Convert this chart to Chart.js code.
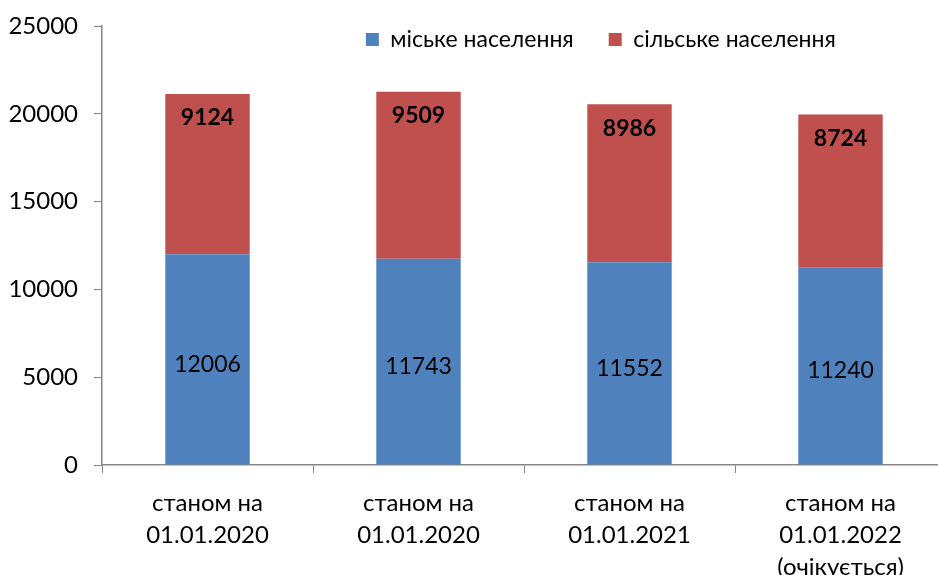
<!DOCTYPE html>
<html>
<head>
<meta charset="utf-8">
<script src="https://cdn.jsdelivr.net/npm/chart.js@4/dist/chart.umd.min.js"></script>
<style>
  html, body { margin: 0; padding: 0; background: #fff; overflow: hidden; }
  #wrap { width: 950px; height: 575px; position: relative; }
</style>
</head>
<body>
<div id="wrap"><canvas id="chart"></canvas></div>
<script>
const categories = [
  ['станом на', '01.01.2020'],
  ['станом на', '01.01.2020'],
  ['станом на', '01.01.2021'],
  ['станом на', '01.01.2022', '(очікується)']
];
const urban = [12006, 11743, 11552, 11240];
const rural = [9124, 9509, 8986, 8724];
const seriesNames = ['міське населення', 'сільське населення'];

const FONT = 'Lato, "Open Sans", sans-serif';
const axisColor = '#868686';

// value labels inside the bars
const barLabels = {
  id: 'barLabels',
  afterDatasetsDraw(chart) {
    const ctx = chart.ctx;
    ctx.save();
    ctx.fillStyle = '#000';
    ctx.textAlign = 'center';
    ctx.textBaseline = 'middle';
    chart.data.datasets.forEach((ds, di) => {
      const meta = chart.getDatasetMeta(di);
      meta.data.forEach((bar, i) => {
        const v = ds.data[i];
        if (di === 0) {
          ctx.font = '23px ' + FONT;
          ctx.fillText(String(v), bar.x, (bar.y + bar.base) / 2 + 5);
        } else {
          ctx.font = 'bold 23px ' + FONT;
          ctx.fillText(String(v), bar.x, bar.y + 24);
        }
      });
    });
    ctx.restore();
  }
};

// legend sits inside the plot area on one row, right of centre
const legendShift = {
  id: 'legendShift',
  beforeLayout(chart) {
    if (chart.legend) chart.legend.isHorizontal = () => true;
  },
  afterLayout(chart) {
    const lg = chart.legend;
    const area = chart.chartArea;
    const dx = area.width * 0.392;
    lg.left += dx;
    lg.right += dx;
    lg.top -= 33;
    lg.bottom -= 33;
  }
};

new Chart(document.getElementById('chart'), {
  type: 'bar',
  data: {
    labels: categories,
    datasets: [
      {
        label: seriesNames[0],
        data: urban,
        backgroundColor: '#4F81BD',
        barPercentage: 1,
        categoryPercentage: 0.4
      },
      {
        label: seriesNames[1],
        data: rural,
        backgroundColor: '#C0504D',
        barPercentage: 1,
        categoryPercentage: 0.4
      }
    ]
  },
  options: {
    responsive: true,
    maintainAspectRatio: false,
    animation: false,
    layout: { padding: { top: 26, right: 4, left: 0, bottom: 0 } },
    plugins: {
      tooltip: { enabled: false },
      legend: {
        position: 'chartArea',
        align: 'start',
        labels: {
          font: { family: FONT, size: 23 },
          color: '#000',
          boxWidth: 13,
          boxHeight: 13,
          padding: 35
        }
      }
    },
    scales: {
      x: {
        stacked: true,
        grid: {
          offset: true,
          drawOnChartArea: false,
          color: axisColor,
          tickLength: 8
        },
        border: { color: axisColor, width: 1.5 },
        ticks: {
          color: '#000',
          font: { family: FONT, size: 24, lineHeight: 1.333 },
          padding: 14,
          maxRotation: 0,
          autoSkip: false
        },
        afterFit(scale) { scale.height = 110; }
      },
      y: {
        stacked: true,
        min: 0,
        max: 25000,
        grid: {
          drawOnChartArea: false,
          color: axisColor,
          tickLength: 8
        },
        border: { color: axisColor, width: 1.5 },
        ticks: {
          stepSize: 5000,
          color: '#000',
          font: { family: FONT, size: 24 },
          padding: 16,
          callback: (v) => String(v)
        },
        afterFit(scale) {
          scale.width = 102;
          scale.paddingTop = 0;
        }
      }
    }
  },
  plugins: [barLabels, legendShift]
});
</script>
</body>
</html>
